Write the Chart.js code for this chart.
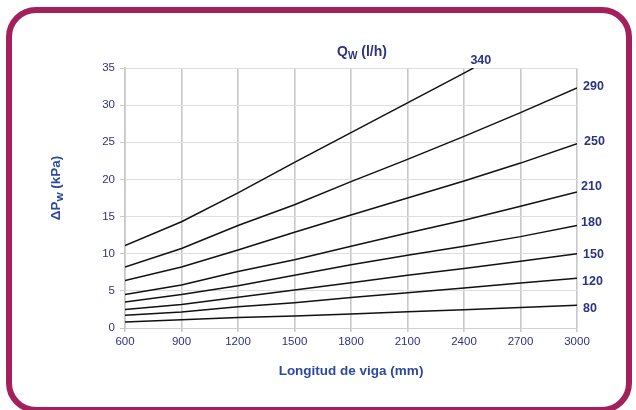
<!DOCTYPE html>
<html>
<head>
<meta charset="utf-8">
<script src="https://cdn.jsdelivr.net/npm/chart.js@4.4.1/dist/chart.umd.min.js"></script>
<style>
  html, body { margin:0; padding:0; background:#ffffff; }
  #wrap { position:relative; width:636px; height:410px; overflow:hidden; }
  #frame { position:absolute; left:6px; top:7px; width:626px; height:406px; box-sizing:border-box;
           border:6px solid #a3205d; border-radius:30px; pointer-events:none; }
  canvas { position:absolute; left:0; top:0; }
</style>
</head>
<body>
<div id="wrap">
  <canvas id="c" width="636" height="410"></canvas>
  <div id="frame"></div>
</div>
<script>
// ---- data ----
const lengths = [600, 900, 1200, 1500, 1800, 2100, 2400, 2700, 3000];
const lengths340 = [600, 900, 1200, 1500, 1800, 2100, 2400, 2450];
const flowLabels = ['340', '290', '250', '210', '180', '150', '120', '80'];
const dp340 = [11.1, 14.3, 18.2, 22.3, 26.3, 30.3, 34.3, 35.0];
const dp290 = [8.2, 10.7, 13.8, 16.6, 19.7, 22.7, 25.8, 29.0, 32.3];
const dp250 = [6.4, 8.2, 10.5, 12.9, 15.2, 17.5, 19.8, 22.2, 24.8];
const dp210 = [4.5, 5.8, 7.6, 9.2, 11.0, 12.8, 14.5, 16.4, 18.3];
const dp180 = [3.5, 4.5, 5.7, 7.1, 8.5, 9.8, 11.0, 12.3, 13.8];
const dp150 = [2.5, 3.15, 4.15, 5.1, 6.1, 7.1, 8.0, 9.0, 10.0];
const dp120 = [1.7, 2.15, 2.85, 3.4, 4.1, 4.75, 5.4, 6.05, 6.7];
const dp80  = [0.8, 1.1, 1.4, 1.6, 1.9, 2.2, 2.45, 2.75, 3.05];
const xTicks = [600, 900, 1200, 1500, 1800, 2100, 2400, 2700, 3000];
const yTicks = [0, 5, 10, 15, 20, 25, 30, 35];
const xTitle = 'Longitud de viga (mm)';
const topTitle = ['Q', 'W', ' (l/h)'];
const yTitle = ['\u0394P', 'W', ' (kPa)'];

// ---- styles ----
const labelDx = [-3, 6, 7, 4, 4, 6, 5, 6];
const labelDy = [-7, -2, -2, -6, -3, 1, 3, 3];

const seriesLists = [dp340, dp290, dp250, dp210, dp180, dp150, dp120, dp80];
const datasets = seriesLists.map((vals, i) => {
  const xs = (i === 0) ? lengths340 : lengths;
  return {
    label: flowLabels[i],
    data: vals.map((v, k) => ({ x: xs[k], y: v })),
    borderColor: '#111111',
    borderWidth: 1.5,
    pointRadius: 0,
    tension: 0,
    fill: false
  };
});

const navy = '#2c3380';
const titleBlue = '#2d4b9e';
const fam = '"Liberation Sans", Arial, sans-serif';

const textPlugin = {
  id: 'texts',
  afterDraw(chart) {
    const ctx = chart.ctx;
    const xs = chart.scales.x, ys = chart.scales.y;
    ctx.save();
    // end labels
    ctx.fillStyle = navy;
    ctx.font = 'bold 12.5px ' + fam;
    ctx.textAlign = 'left';
    ctx.textBaseline = 'middle';
    seriesLists.forEach((vals, i) => {
      const xs0 = (i === 0) ? lengths340 : lengths;
      const lx = xs.getPixelForValue(xs0[xs0.length - 1]);
      const ly = ys.getPixelForValue(vals[vals.length - 1]);
      ctx.fillText(flowLabels[i], lx + labelDx[i], ly + labelDy[i]);
    });
    const measure = (parts, size) => {
      const big = 'bold ' + size + 'px ' + fam;
      const small = 'bold ' + (size * 0.72) + 'px ' + fam;
      ctx.font = big; const w0 = ctx.measureText(parts[0]).width;
      const w2 = ctx.measureText(parts[2]).width;
      ctx.font = small; const w1 = ctx.measureText(parts[1]).width;
      return { big, small, w0, w1, w2, total: w0 + w1 + w2 };
    };
    {
      const m = measure(topTitle, 14);
      const cx = 362, by = 56;
      let x = cx - m.total / 2;
      ctx.fillStyle = navy;
      ctx.textBaseline = 'alphabetic';
      ctx.font = m.big; ctx.fillText(topTitle[0], x, by); x += m.w0;
      ctx.font = m.small; ctx.fillText(topTitle[1], x, by + 3); x += m.w1;
      ctx.font = m.big; ctx.fillText(topTitle[2], x, by);
    }
    {
      const m = measure(yTitle, 13.5);
      ctx.save();
      ctx.translate(60, 188);
      ctx.rotate(-Math.PI / 2);
      let x = -m.total / 2;
      ctx.fillStyle = titleBlue;
      ctx.textBaseline = 'alphabetic';
      ctx.font = m.big; ctx.fillText(yTitle[0], x, 0); x += m.w0;
      ctx.font = m.small; ctx.fillText(yTitle[1], x, 3); x += m.w1;
      ctx.font = m.big; ctx.fillText(yTitle[2], x, 0);
      ctx.restore();
    }
    // x title
    ctx.fillStyle = titleBlue;
    ctx.font = 'bold 13.5px ' + fam;
    ctx.textAlign = 'center';
    ctx.textBaseline = 'middle';
    ctx.fillText(xTitle, (xs.left + xs.right) / 2, 371);
    ctx.restore();
  }
};

new Chart(document.getElementById('c'), {
  type: 'line',
  data: { datasets },
  plugins: [textPlugin],
  options: {
    responsive: false,
    animation: false,
    events: [],
    layout: { padding: { left: 0, right: 59, top: 68, bottom: 0 } },
    plugins: { legend: { display: false }, tooltip: { enabled: false }, title: { display: false } },
    scales: {
      x: {
        type: 'linear', min: 600, max: 3000,
        afterBuildTicks: (s) => { s.ticks = xTicks.map(v => ({ value: v })); },
        afterFit: (s) => { s.height = 82; },
        ticks: { color: navy, font: { family: fam, size: 11.5 }, padding: 3, maxRotation: 0,
                 callback: (v) => String(v) },
        grid: { color: '#c8c8c8', lineWidth: 1.6, tickLength: 4, tickColor: '#c8c8c8' },
        border: { color: '#d0d0d0', width: 1 }
      },
      y: {
        type: 'linear', min: 0, max: 35,
        afterBuildTicks: (s) => { s.ticks = yTicks.map(v => ({ value: v })); },
        afterFit: (s) => { s.width = 125; },
        ticks: { color: navy, font: { family: fam, size: 11.5 }, padding: 5,
                 callback: (v) => String(v) },
        grid: { color: '#dedede', lineWidth: 1, tickLength: 5, tickColor: '#c8c8c8' },
        border: { color: '#c8c8c8', width: 1.6 }
      }
    }
  }
});
</script>
</body>
</html>
